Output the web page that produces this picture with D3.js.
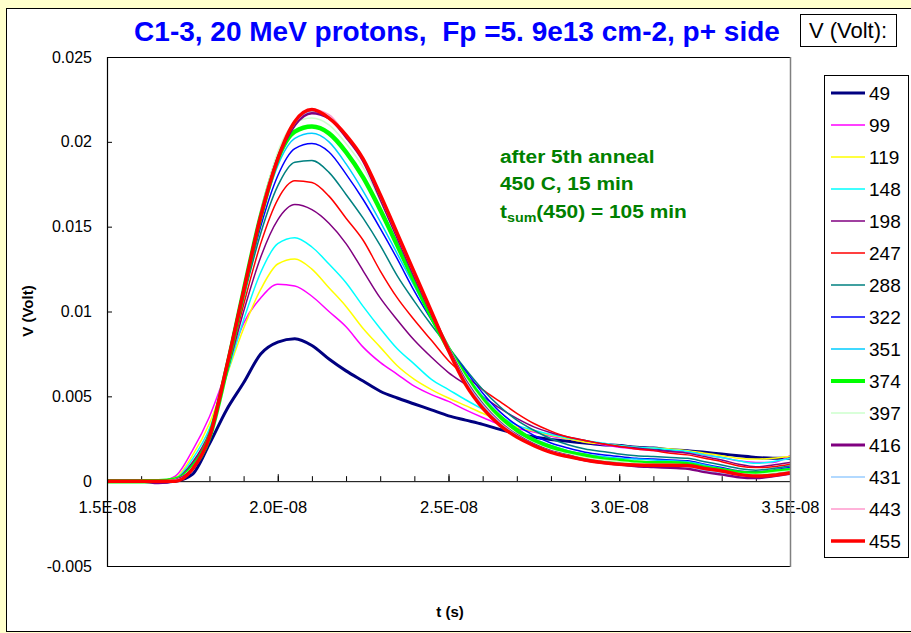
<!DOCTYPE html>
<html>
<head>
<meta charset="utf-8">
<script src="https://cdn.jsdelivr.net/npm/d3@7"></script>
<style>
  html, body { margin: 0; padding: 0; background: #FFFFCC; }
  svg { display: block; font-family: "Liberation Sans", Arial, sans-serif; }
</style>
</head>
<body>
<svg id="chart" width="911" height="633"></svg>
<script>
// ---- data: time base in ns, signal amplitudes in mV ----
const timesNs = [15, 15.5, 16, 16.5, 17, 17.5, 18, 18.5, 19, 19.5, 20, 20.5, 21, 21.5, 22, 22.5, 23, 23.5,
  24, 24.5, 25, 25.5, 26, 26.5, 27, 27.5, 28, 28.5, 29, 29.5, 30, 30.5, 31, 31.5, 32, 32.5, 33, 33.5, 34, 34.5, 35];

const biasLabels = ["49", "99", "119", "148", "198", "247", "288", "322", "351", "374", "397", "416", "431", "443", "455"];

const v49  = [0, 0, 0, -0.05, 0, 0.4, 2.2, 4.2, 5.8, 7.5, 8.2, 8.4, 8.0, 7.2, 6.5, 5.9, 5.3, 4.9, 4.55, 4.2, 3.85, 3.6, 3.35, 3.05, 2.8, 2.6, 2.45, 2.35, 2.25, 2.15, 2.1, 2.0, 1.95, 1.85, 1.8, 1.7, 1.6, 1.5, 1.4, 1.35, 1.35];
const v99  = [0, 0, 0, 0, 0.3, 1.8, 3.8, 6.5, 9.3, 10.8, 11.6, 11.5, 10.9, 10.0, 9.1, 7.9, 7.0, 6.3, 5.6, 5.1, 4.7, 4.2, 3.75, 3.35, 3.1, 2.9, 2.65, 2.5, 2.3, 2.15, 2.0, 1.9, 1.8, 1.75, 1.7, 1.55, 1.4, 1.2, 1.1, 1.1, 1.5];
const v119 = [0, 0, 0, 0, 0.2, 1.5, 3.4, 6.2, 9.0, 11.3, 12.8, 13.1, 12.5, 11.4, 10.3, 9.0, 7.9, 6.8, 6.0, 5.4, 4.9, 4.45, 4.0, 3.6, 3.2, 2.95, 2.7, 2.5, 2.3, 2.2, 2.1, 2.0, 1.95, 1.9, 1.8, 1.65, 1.5, 1.35, 1.3, 1.35, 1.45];
const v148 = [0, 0, 0, 0, 0.15, 1.3, 3.1, 6.2, 9.5, 12.3, 14.0, 14.35, 13.8, 12.8, 11.7, 10.3, 9.0, 7.8, 6.9, 6.0, 5.4, 4.8, 4.25, 3.8, 3.3, 3.0, 2.75, 2.55, 2.4, 2.25, 2.1, 2.0, 1.95, 1.85, 1.75, 1.55, 1.4, 1.2, 1.05, 1.15, 1.35];
const v198 = [0, 0, 0, -0.1, 0.1, 1.1, 2.9, 6.3, 10.0, 13.2, 15.4, 16.3, 16.0, 15.2, 14.0, 12.4, 10.8, 9.5, 8.3, 7.3, 6.4, 5.7, 5.0, 4.3, 3.7, 3.2, 2.85, 2.6, 2.4, 2.2, 2.05, 1.95, 1.85, 1.75, 1.65, 1.45, 1.25, 1.0, 0.85, 0.95, 1.1];
const v247 = [0, 0, 0, 0, 0.1, 1.0, 2.8, 6.4, 10.4, 14.0, 16.6, 17.7, 17.6, 16.8, 15.5, 14.2, 12.4, 10.8, 9.5, 8.3, 7.1, 6.2, 5.4, 4.7, 4.0, 3.4, 2.95, 2.6, 2.4, 2.2, 2.05, 1.9, 1.8, 1.65, 1.55, 1.35, 1.15, 0.9, 0.8, 0.85, 1.0];
const v288 = [0, 0, 0, 0, 0.1, 1.0, 2.7, 6.5, 10.8, 14.6, 17.4, 18.8, 18.9, 18.2, 16.9, 15.5, 13.9, 12.1, 10.6, 9.2, 7.9, 6.6, 5.4, 4.4, 3.6, 3.0, 2.5, 2.15, 1.9, 1.75, 1.6, 1.5, 1.45, 1.4, 1.35, 1.15, 0.95, 0.75, 0.65, 0.75, 0.9];
const v322 = [0, 0, 0, 0, 0.1, 0.9, 2.7, 6.5, 11.0, 15.0, 18.0, 19.6, 19.9, 19.4, 18.1, 16.6, 14.9, 13.1, 11.2, 9.5, 7.9, 6.5, 5.2, 4.1, 3.3, 2.7, 2.25, 1.95, 1.7, 1.55, 1.45, 1.35, 1.3, 1.25, 1.2, 1.0, 0.8, 0.6, 0.55, 0.65, 0.8];
const v351 = [0, 0, 0, 0, 0.1, 0.9, 2.7, 6.6, 11.2, 15.4, 18.6, 20.2, 20.5, 20.0, 18.7, 17.1, 15.3, 13.4, 11.5, 9.6, 7.8, 6.3, 5.0, 3.9, 3.1, 2.5, 2.1, 1.8, 1.6, 1.45, 1.35, 1.3, 1.25, 1.2, 1.15, 0.95, 0.75, 0.55, 0.5, 0.6, 0.75];
const v374 = [0, 0, 0, 0, 0.1, 0.8, 2.6, 6.6, 11.2, 15.6, 19.0, 20.6, 20.9, 20.5, 19.4, 17.9, 16.0, 13.9, 11.8, 9.7, 7.8, 6.2, 4.8, 3.8, 3.0, 2.4, 2.0, 1.7, 1.5, 1.3, 1.2, 1.1, 1.05, 1.05, 1.0, 0.8, 0.65, 0.5, 0.45, 0.55, 0.65];
const v397 = [0, 0, 0, 0, 0.1, 0.8, 2.6, 6.6, 11.2, 15.8, 19.4, 21.1, 21.4, 21.0, 19.9, 18.5, 16.5, 14.3, 12.1, 9.9, 7.9, 6.1, 4.7, 3.6, 2.8, 2.25, 1.85, 1.6, 1.4, 1.25, 1.15, 1.05, 1.0, 1.0, 0.95, 0.75, 0.6, 0.45, 0.4, 0.5, 0.6];
const v416 = [0, 0, 0, -0.1, 0.05, 0.7, 2.6, 6.7, 11.2, 15.6, 19.0, 21.0, 21.7, 21.4, 20.3, 18.9, 16.7, 14.4, 12.1, 9.9, 7.8, 5.9, 4.5, 3.45, 2.7, 2.15, 1.75, 1.5, 1.25, 1.1, 1.0, 0.9, 0.85, 0.8, 0.75, 0.55, 0.4, 0.25, 0.2, 0.3, 0.45];
const v431 = [0, 0, 0, 0, 0.05, 0.7, 2.6, 6.7, 11.2, 15.6, 19.0, 21.1, 21.8, 21.5, 20.4, 19.0, 16.8, 14.5, 12.2, 10.0, 7.8, 5.9, 4.5, 3.45, 2.7, 2.15, 1.75, 1.5, 1.3, 1.15, 1.05, 0.95, 0.9, 0.9, 0.85, 0.65, 0.5, 0.35, 0.3, 0.4, 0.55];
const v443 = [0, 0, 0, 0, 0.05, 0.7, 2.6, 6.7, 11.2, 15.6, 19.0, 21.2, 21.9, 21.6, 20.4, 19.0, 16.8, 14.5, 12.2, 9.9, 7.7, 5.8, 4.4, 3.4, 2.65, 2.1, 1.75, 1.5, 1.25, 1.1, 1.0, 0.95, 0.9, 0.9, 0.85, 0.7, 0.55, 0.35, 0.3, 0.35, 0.5];
const v455 = [0, 0, 0, 0, 0, 0.7, 2.6, 6.7, 11.2, 15.6, 19.0, 21.2, 21.9, 21.4, 20.4, 19.0, 16.9, 14.6, 12.3, 10.0, 7.7, 5.7, 4.3, 3.3, 2.6, 2.1, 1.7, 1.45, 1.25, 1.1, 1.0, 0.95, 0.94, 0.94, 0.92, 0.75, 0.6, 0.4, 0.3, 0.35, 0.5];

const seriesValues = [v49, v99, v119, v148, v198, v247, v288, v322, v351, v374, v397, v416, v431, v443, v455];

// axis ticks (seconds / volts) and their printed labels
const xTickValues = [1.5e-8, 2.0e-8, 2.5e-8, 3.0e-8, 3.5e-8];
const xTickLabels = ["1.5E-08", "2.0E-08", "2.5E-08", "3.0E-08", "3.5E-08"];
const yTickValues = [-0.005, 0, 0.005, 0.01, 0.015, 0.02, 0.025];
const yTickLabels = ["-0.005", "0", "0.005", "0.01", "0.015", "0.02", "0.025"];

// ---- styling ----
const lineColors = ["#000080", "#FF00FF", "#FFFF00", "#00FFFF", "#800080", "#FF0000", "#008080", "#0000FF",
  "#00CCFF", "#00FF00", "#CCFFCC", "#800080", "#99CCFF", "#FF99CC", "#FF0000"];
const lineWidths = [3, 1.5, 1.5, 1.5, 1.5, 1.5, 1.5, 1.5, 1.5, 4.5, 1.5, 3, 1.5, 1.5, 3.5];

const W = 911, H = 633;
const plot = { left: 107, right: 790, top: 57, bottom: 566 };

const svg = d3.select("#chart");

// white chart frame on the pale yellow page
svg.append("rect").attr("x", 6.5).attr("y", 8.5).attr("width", W).attr("height", 623)
  .attr("fill", "#fff").attr("stroke", "#000").attr("stroke-width", 1);

const x = d3.scaleLinear().domain([1.5e-8, 3.5e-8]).range([plot.left, plot.right]);
const y = d3.scaleLinear().domain([-0.005, 0.025]).range([plot.bottom, plot.top]);

// title
svg.append("text")
  .attr("x", 457).attr("y", 41)
  .attr("text-anchor", "middle")
  .style("white-space", "pre")
  .attr("font-size", 28).attr("font-weight", "bold").attr("fill", "#0000FF")
  .text("C1-3, 20 MeV protons,  Fp =5. 9e13 cm-2, p+ side");

// legend heading box
svg.append("rect").attr("x", 800.5).attr("y", 14.5).attr("width", 96).attr("height", 32)
  .attr("fill", "#fff").attr("stroke", "#000");
svg.append("text").attr("x", 848).attr("y", 38).attr("text-anchor", "middle")
  .attr("font-size", 22).text("V (Volt):");

// axes
const yAxis = d3.axisLeft(y).tickValues(yTickValues)
  .tickFormat((d, i) => yTickLabels[i]).tickSizeInner(-5).tickSizeOuter(0).tickPadding(15);
const gy = svg.append("g").attr("transform", `translate(${plot.left},0)`).call(yAxis);
gy.selectAll("text").attr("font-size", 16).attr("fill", "#000");
gy.select(".domain").remove();

const minorTicks = d3.range(15, 36).map(n => n * 1e-9);
const xMinor = d3.axisBottom(x).tickValues(minorTicks).tickFormat("").tickSizeInner(-5).tickSizeOuter(0);
const gxm = svg.append("g").attr("transform", `translate(0,${y(0)})`).call(xMinor);
gxm.select(".domain").remove();

const xAxis = d3.axisBottom(x).tickValues(xTickValues)
  .tickFormat((d, i) => xTickLabels[i]).tickSizeInner(-7).tickSizeOuter(0).tickPadding(20);
const gx = svg.append("g").attr("transform", `translate(0,${y(0)})`).call(xAxis);
gx.selectAll("text").attr("font-size", 16.5).attr("fill", "#000");

// data lines
svg.append("clipPath").attr("id", "plotClip").append("rect")
  .attr("x", plot.left).attr("y", plot.top)
  .attr("width", plot.right - plot.left).attr("height", plot.bottom - plot.top);

const line = d3.line()
  .x((d, i) => x(timesNs[i] * 1e-9))
  .y(d => y(d * 1e-3))
  .curve(d3.curveMonotoneX);

svg.append("g").attr("clip-path", "url(#plotClip)")
  .selectAll("path").data(seriesValues).join("path")
  .attr("d", d => line(d))
  .attr("fill", "none")
  .attr("stroke", (d, i) => lineColors[i])
  .attr("stroke-width", (d, i) => lineWidths[i])
  .attr("stroke-linejoin", "round");

// plot area border (drawn over the tick labels it crosses)
svg.append("path")
  .attr("d", `M${plot.right},${plot.bottom + 0.5}H${plot.left + 0.5}V${plot.top + 0.5}H${plot.right}`)
  .attr("fill", "none").attr("stroke", "#000").attr("stroke-width", 1.2);
svg.append("line")
  .attr("x1", plot.right + 0.5).attr("x2", plot.right + 0.5)
  .attr("y1", plot.top).attr("y2", plot.bottom + 1)
  .attr("stroke", "#808080").attr("stroke-width", 1.5);

// axis titles
svg.append("text").attr("x", 450).attr("y", 617).attr("text-anchor", "middle")
  .attr("font-size", 15).attr("font-weight", "bold").text("t (s)");
svg.append("text").attr("transform", "translate(33,311) rotate(-90)").attr("text-anchor", "middle")
  .attr("font-size", 15).attr("font-weight", "bold").text("V (Volt)");

// annotation (slightly widened lettering)
const note = svg.append("g").attr("transform", "translate(500,0) scale(1.1,1)")
  .attr("fill", "#008000").attr("font-weight", "bold").attr("font-size", 19);
note.append("text").attr("x", 0).attr("y", 163).text("after 5th anneal");
note.append("text").attr("x", 0).attr("y", 190).text("450 C, 15 min");
const t3 = note.append("text").attr("x", 0).attr("y", 218);
t3.append("tspan").text("t");
t3.append("tspan").attr("font-size", 13).attr("dy", 4).text("sum");
t3.append("tspan").attr("dy", -4).text("(450) = 105 min");

// legend
const lg = { left: 824, top: 75, width: 84, height: 482 };
svg.append("rect").attr("x", lg.left + 0.5).attr("y", lg.top + 0.5)
  .attr("width", lg.width).attr("height", lg.height)
  .attr("fill", "#fff").attr("stroke", "#000");
const ly = d3.scaleBand().domain(biasLabels).range([lg.top + 2, lg.top + lg.height]);
const items = svg.append("g").selectAll("g").data(biasLabels).join("g")
  .attr("transform", d => `translate(0,${ly(d) + ly.bandwidth() / 2})`);
items.append("line").attr("x1", 831).attr("x2", 865)
  .attr("stroke", (d, i) => lineColors[i])
  .attr("stroke-width", (d, i) => Math.min(lineWidths[i], 4));
items.append("text").attr("x", 869).attr("dy", "0.36em")
  .attr("font-size", 19).text(d => d);
</script>
</body>
</html>
